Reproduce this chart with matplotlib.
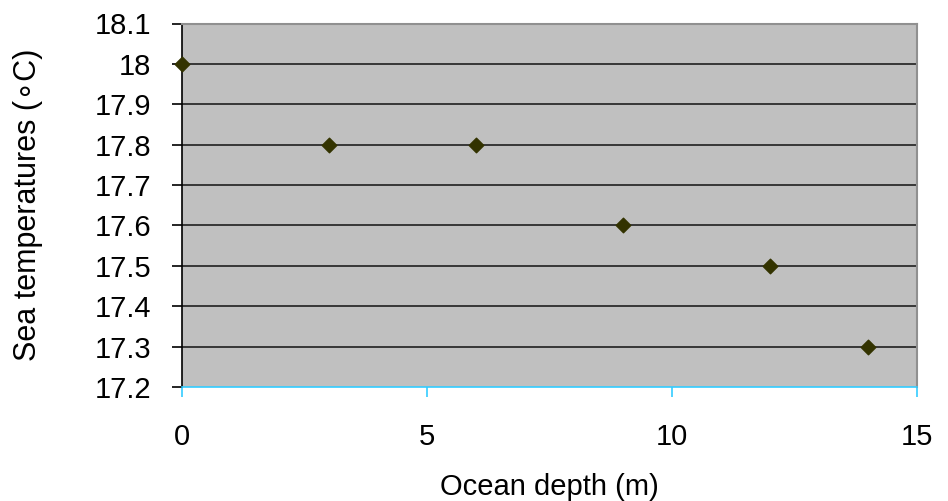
import matplotlib
matplotlib.use("Agg")
import matplotlib.pyplot as plt
import numpy as np

# Depth (m) and sea temperature (C)
depth = [0, 3, 6, 9, 12, 14]
temps = [18.0, 17.8, 17.8, 17.6, 17.5, 17.3]
x_ticks = [0, 5, 10, 15]
y_ticks = [17.2, 17.3, 17.4, 17.5, 17.6, 17.7, 17.8, 17.9, 18.0, 18.1]
y_labels = ["17.2", "17.3", "17.4", "17.5", "17.6", "17.7", "17.8", "17.9", "18", "18.1"]

plt.rcParams["font.family"] = ["Liberation Sans", "DejaVu Sans"]

fig = plt.figure(figsize=(9.48, 5.01), dpi=100)
ax = fig.add_axes([182 / 948, 1 - 387 / 501, (917 - 182) / 948, (387 - 23.5) / 501])
ax.set_facecolor("#c0c0c0")

ax.set_xlim(0, 15)
ax.set_ylim(17.2, 18.1)
ax.set_xticks(x_ticks)
ax.set_yticks(y_ticks)
ax.set_yticklabels(y_labels)

# horizontal gridlines
for y in y_ticks[1:-1]:
    ax.axhline(y, color="#202020", linewidth=1.2, zorder=1)

ax.scatter(depth, temps, marker="D", s=55, color="#333300", zorder=3, clip_on=False)

for side in ["top", "right"]:
    ax.spines[side].set_color("#909090")
    ax.spines[side].set_linewidth(1.5)
ax.spines["bottom"].set_color("#33ccff")
ax.spines["bottom"].set_linewidth(1.2)
ax.spines["left"].set_color("black")
ax.spines["left"].set_linewidth(1.2)

ax.tick_params(axis="x", colors="#33ccff", length=7, width=1.2, direction="out", pad=19, labelsize=21, labelcolor="black")
ax.tick_params(axis="y", colors="black", length=7, width=1.2, direction="out", pad=15, labelsize=21)

ax.set_xlabel("Ocean depth (m)", fontsize=21, labelpad=16)
ax.set_ylabel("Sea temperatures (\u2218C)", fontsize=22, labelpad=37)

plt.savefig("out.png", dpi=100)
